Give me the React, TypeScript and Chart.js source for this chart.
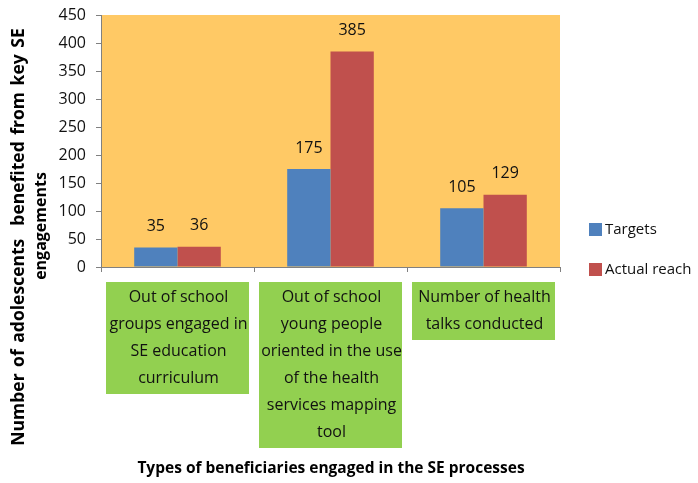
import React, { useEffect, useRef } from "react";
import { Chart, registerables } from "chart.js";

Chart.register(...registerables);

const categories: string[][] = [
  ["Out of school", "groups engaged in", "SE education", "curriculum"],
  ["Out of school", "young people", "oriented in the use", "of the health", "services mapping", "tool"],
  ["Number of health", "talks conducted"],
];
const seriesNames = ["Targets", "Actual reach"];
const targets = [35, 175, 105];
const actualReach = [36, 385, 129];
const yTicks = { min: 0, max: 450, step: 50 };
const xTitle = "Types of beneficiaries engaged in the SE processes";
const yTitle = ["Number of adolescents  benefited from key SE", "engagements"];

const BLUE = "#4F81BD";
const RED = "#C0504D";
const FONT = "'Open Sans', sans-serif";

const decorPlugin = {
  id: "decor",
  beforeDraw(chart: any) {
    const { ctx, chartArea } = chart;
    ctx.save();
    ctx.fillStyle = "#FFC965";
    ctx.fillRect(chartArea.left, chartArea.top, chartArea.right - chartArea.left, chartArea.bottom - chartArea.top);
    ctx.restore();
  },
  afterDraw(chart: any) {
    const { ctx } = chart;
    const xs = chart.scales.x;
    ctx.save();
    // data labels
    ctx.font = `16px ${FONT}`;
    ctx.fillStyle = "#111";
    ctx.textAlign = "center";
    ctx.textBaseline = "middle";
    chart.data.datasets.forEach((ds: any, di: number) => {
      const meta = chart.getDatasetMeta(di);
      meta.data.forEach((el: any, i: number) => {
        ctx.fillText(String(ds.data[i]), el.x, el.y - 21);
      });
    });
    // category boxes
    const top = 282;
    const boxW = 143;
    const lh = 27;
    categories.forEach((lines, i) => {
      const cx = xs.getPixelForValue(i);
      const h = lines.length * lh + 4;
      ctx.fillStyle = "#92D050";
      ctx.fillRect(cx - boxW / 2, top, boxW, h);
      ctx.fillStyle = "#111";
      ctx.font = `16px ${FONT}`;
      lines.forEach((t, k) => {
        ctx.fillText(t, cx + 1, top + 2 + lh / 2 + k * lh);
      });
    });
    // x title
    ctx.font = `bold 15.5px ${FONT}`;
    ctx.fillStyle = "#000";
    ctx.fillText(xTitle, 331, 469);
    // y title
    ctx.font = `bold 17.5px ${FONT}`;
    ctx.save();
    (ctx as any).wordSpacing = "2px";
    ctx.translate(19.5, 237);
    ctx.rotate(-Math.PI / 2);
    ctx.fillText(yTitle[0], 0, 0);
    ctx.restore();
    ctx.font = `bold 16px ${FONT}`;
    ctx.save();
    ctx.translate(41, 226);
    ctx.rotate(-Math.PI / 2);
    ctx.fillText(yTitle[1], 0, 0);
    ctx.restore();
    // legend
    const colors = [BLUE, RED];
    ctx.font = `15px ${FONT}`;
    ctx.textAlign = "left";
    seriesNames.forEach((n, i) => {
      const y = 223 + i * 40;
      ctx.fillStyle = colors[i];
      ctx.fillRect(589, y, 13, 13);
      ctx.fillStyle = "#111";
      ctx.fillText(n, 605, y + 7);
    });
    ctx.restore();
  },
};

export default function App() {
  const ref = useRef<HTMLCanvasElement>(null);
  useEffect(() => {
    if (!ref.current) return;
    const chart = new Chart(ref.current, {
      type: "bar",
      data: {
        labels: categories.map((c) => c.join(" ")),
        datasets: [
          { label: seriesNames[0], data: targets, backgroundColor: BLUE, barPercentage: 1, categoryPercentage: 0.566 },
          { label: seriesNames[1], data: actualReach, backgroundColor: RED, barPercentage: 1, categoryPercentage: 0.566 },
        ],
      },
      options: {
        animation: false,
        responsive: false,
        layout: { padding: { left: 0, right: 138, top: 15, bottom: 0 } },
        plugins: { legend: { display: false }, tooltip: { enabled: false } },
        scales: {
          x: {
            grid: { drawOnChartArea: false, drawTicks: true, tickLength: 5, color: "#808080" },
            border: { display: true, color: "#808080" },
            ticks: { display: false },
            afterFit: (s: any) => { s.height = 216; s.paddingLeft = 0; s.paddingRight = 0; },
          },
          y: {
            min: yTicks.min,
            max: yTicks.max,
            grid: { drawOnChartArea: false, drawTicks: true, tickLength: 5, color: "#808080" },
            border: { display: true, color: "#808080" },
            ticks: { stepSize: yTicks.step, padding: 10, color: "#111", font: { family: "'Open Sans', sans-serif", size: 16 } },
            afterFit: (s: any) => { s.width = 101; s.paddingTop = 0; s.paddingBottom = 0; },
          },
        },
      },
      plugins: [decorPlugin],
    });
    return () => chart.destroy();
  }, []);
  return (
    <div style={{ position: "fixed", left: 0, top: 0, width: 698, height: 483, background: "#fff" }}>
      <canvas ref={ref} width={698} height={483} />
    </div>
  );
}
